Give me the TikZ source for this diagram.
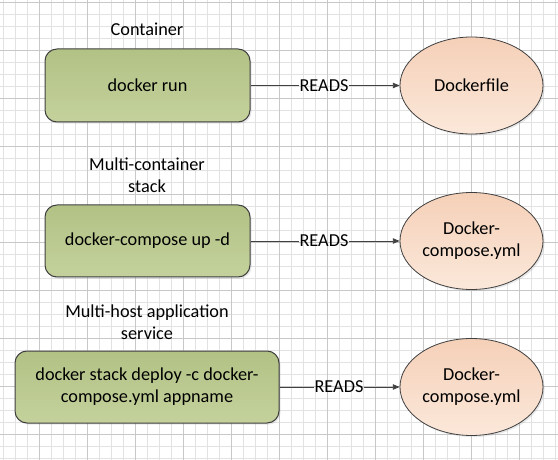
\documentclass[tikz,border=0pt]{standalone}
\usepackage{fontspec}
\setmainfont{Carlito}
\usetikzlibrary{shapes.geometric,arrows.meta,shadows}
\definecolor{gridminor}{RGB}{226,226,226}
\definecolor{gridmajor}{RGB}{200,200,200}
\definecolor{greentop}{RGB}{178,194,133}
\definecolor{greenbot}{RGB}{196,209,156}
\definecolor{peachtop}{RGB}{245,208,184}
\definecolor{peachbot}{RGB}{251,232,218}
\definecolor{edgegray}{RGB}{64,64,64}
\tikzset{
  cmdbox/.style={draw=edgegray, line width=0.75pt, rounded corners=9pt,
    top color=greentop, bottom color=greenbot, align=center,
    font=\fontsize{13.7}{16.5}\selectfont,
    drop shadow={opacity=0.18, shadow xshift=1.2pt, shadow yshift=-1.2pt}},
  filebox/.style={ellipse, draw=edgegray, line width=0.6pt,
    top color=peachtop, bottom color=peachbot, align=center,
    minimum width=107.25pt, minimum height=72.75pt, inner sep=0pt,
    font=\fontsize{13.7}{16.5}\selectfont,
    drop shadow={opacity=0.18, shadow xshift=1.2pt, shadow yshift=-1.2pt}},
  title/.style={align=center, font=\fontsize{13.7}{16.5}\selectfont},
  readlbl/.style={inner sep=0.6pt, font=\fontsize{13.7}{16.5}\selectfont},
  conn/.style={draw=edgegray, line width=0.6pt},
  arrowconn/.style={conn, -{Triangle[length=5pt,width=4pt]}}
}
\begin{document}
\begin{tikzpicture}[x=0.75pt,y=-0.75pt]
\useasboundingbox (0,0) rectangle (558,460);
\fill[white] (0,0) rectangle (558,460);
% grid
\foreach \gx in {3.3,15.3,...,558} {\draw[gridminor, line width=0.6pt] (\gx,0) -- (\gx,460);}
\foreach \gy in {2.7,14.7,...,460} {\draw[gridminor, line width=0.6pt] (0,\gy) -- (558,\gy);}
\foreach \gx in {39.3,87.3,...,558} {\draw[gridmajor, line width=0.6pt] (\gx,0) -- (\gx,460);}
\foreach \gy in {2.7,50.7,...,460} {\draw[gridmajor, line width=0.6pt] (0,\gy) -- (558,\gy);}

% titles
\node[title] (t1) at (147,29) {Container};
\node[title] (t2) at (147,175.5) {Multi-container\\stack};
\node[title] (t3) at (147,322) {Multi-host application\\service};

% command boxes
\node[cmdbox, minimum width=153.75pt, minimum height=54.75pt] (b1) at (147.5,85.5) {docker run};
\node[cmdbox, minimum width=153.75pt, minimum height=54pt] (b2) at (147.5,241) {docker-compose up -d};
\node[cmdbox, minimum width=198pt, minimum height=54pt] (b3) at (147,387) {docker stack deploy -c docker-\\compose.yml appname};

% files
\node[filebox] (e1) at (471.5,85.5) {Dockerfile};
\node[filebox] (e2) at (471.5,241) {Docker-\\compose.yml};
\node[filebox] (e3) at (471.5,387) {Docker-\\compose.yml};

% labels
\node[readlbl] (r1) at (324,85.5) {READS};
\node[readlbl] (r2) at (324,241) {READS};
\node[readlbl] (r3) at (339,387) {READS};

% connectors
\draw[conn] (b1.east) -- (r1.west);
\draw[arrowconn] (r1.east) -- (e1.west);
\draw[conn] (b2.east) -- (r2.west);
\draw[arrowconn] (r2.east) -- (e2.west);
\draw[conn] (b3.east) -- (r3.west);
\draw[arrowconn] (r3.east) -- (e3.west);
\end{tikzpicture}
\end{document}
